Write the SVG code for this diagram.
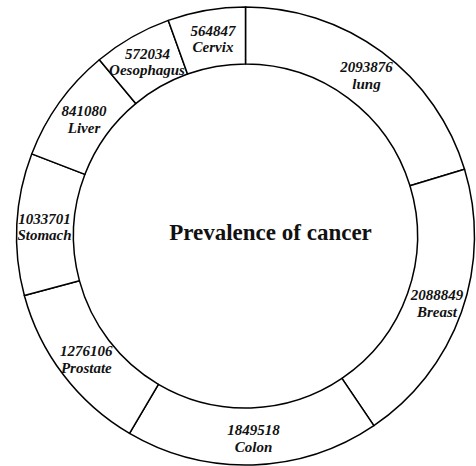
<svg xmlns="http://www.w3.org/2000/svg" width="476" height="466" viewBox="0 0 476 466">
<style>
.seg{fill:#fff;stroke:#000;stroke-width:1.5;stroke-linejoin:round}
.lbl{font-family:"Liberation Serif","Times New Roman",serif;font-size:15px;font-weight:bold;font-style:italic;fill:#111;text-anchor:middle}
.title{font-family:"Liberation Serif","Times New Roman",serif;font-size:23px;font-weight:bold;fill:#111;text-anchor:middle}
</style>
<rect width="476" height="466" fill="#fff"/>
<g id="segments">
<g id="lung">
<path class="seg" d="M245.5,7 A229,229 0 0 1 464.54,169.21 L409.98,185.83 A172,172 0 0 0 245.5,64 Z"/>
<text class="lbl" x="366.5" y="72">2093876</text>
<text class="lbl" x="366.5" y="89">lung</text>
</g>
<g id="breast">
<path class="seg" d="M464.54,169.21 A229,229 0 0 1 373.87,425.64 L341.92,378.44 A172,172 0 0 0 409.98,185.83 Z"/>
<text class="lbl" x="437" y="299.5">2088849</text>
<text class="lbl" x="437" y="316.5">Breast</text>
</g>
<g id="colon">
<path class="seg" d="M373.87,425.64 A229,229 0 0 1 129.53,433.47 L158.40,384.32 A172,172 0 0 0 341.92,378.44 Z"/>
<text class="lbl" x="253.5" y="435">1849518</text>
<text class="lbl" x="253.5" y="452">Colon</text>
</g>
<g id="prostate">
<path class="seg" d="M129.53,433.47 A229,229 0 0 1 24.35,295.46 L79.40,280.66 A172,172 0 0 0 158.40,384.32 Z"/>
<text class="lbl" x="86.3" y="356">1276106</text>
<text class="lbl" x="86.3" y="373">Prostate</text>
</g>
<g id="stomach">
<path class="seg" d="M24.35,295.46 A229,229 0 0 1 31.72,153.90 L84.93,174.33 A172,172 0 0 0 79.40,280.66 Z"/>
<text class="lbl" x="44.5" y="224">1033701</text>
<text class="lbl" x="44.5" y="240">Stomach</text>
</g>
<g id="liver">
<path class="seg" d="M31.72,153.90 A229,229 0 0 1 99.34,59.71 L135.72,103.59 A172,172 0 0 0 84.93,174.33 Z"/>
<text class="lbl" x="84" y="116">841080</text>
<text class="lbl" x="84" y="133">Liver</text>
</g>
<g id="oesophagus">
<path class="seg" d="M99.34,59.71 A229,229 0 0 1 168.30,20.40 L187.52,74.07 A172,172 0 0 0 135.72,103.59 Z"/>
<text class="lbl" x="147.5" y="58.5">572034</text>
<text class="lbl" x="147" y="75">Oesophagus</text>
</g>
<g id="cervix">
<path class="seg" d="M168.30,20.40 A229,229 0 0 1 245.5,7 L245.5,64 A172,172 0 0 0 187.52,74.07 Z"/>
<text class="lbl" x="213" y="36">564847</text>
<text class="lbl" x="213" y="52">Cervix</text>
</g>
</g>
<g id="center">
<text class="title" x="270.5" y="240">Prevalence of cancer</text>
</g>
<g id="connectors"/>
</svg>
